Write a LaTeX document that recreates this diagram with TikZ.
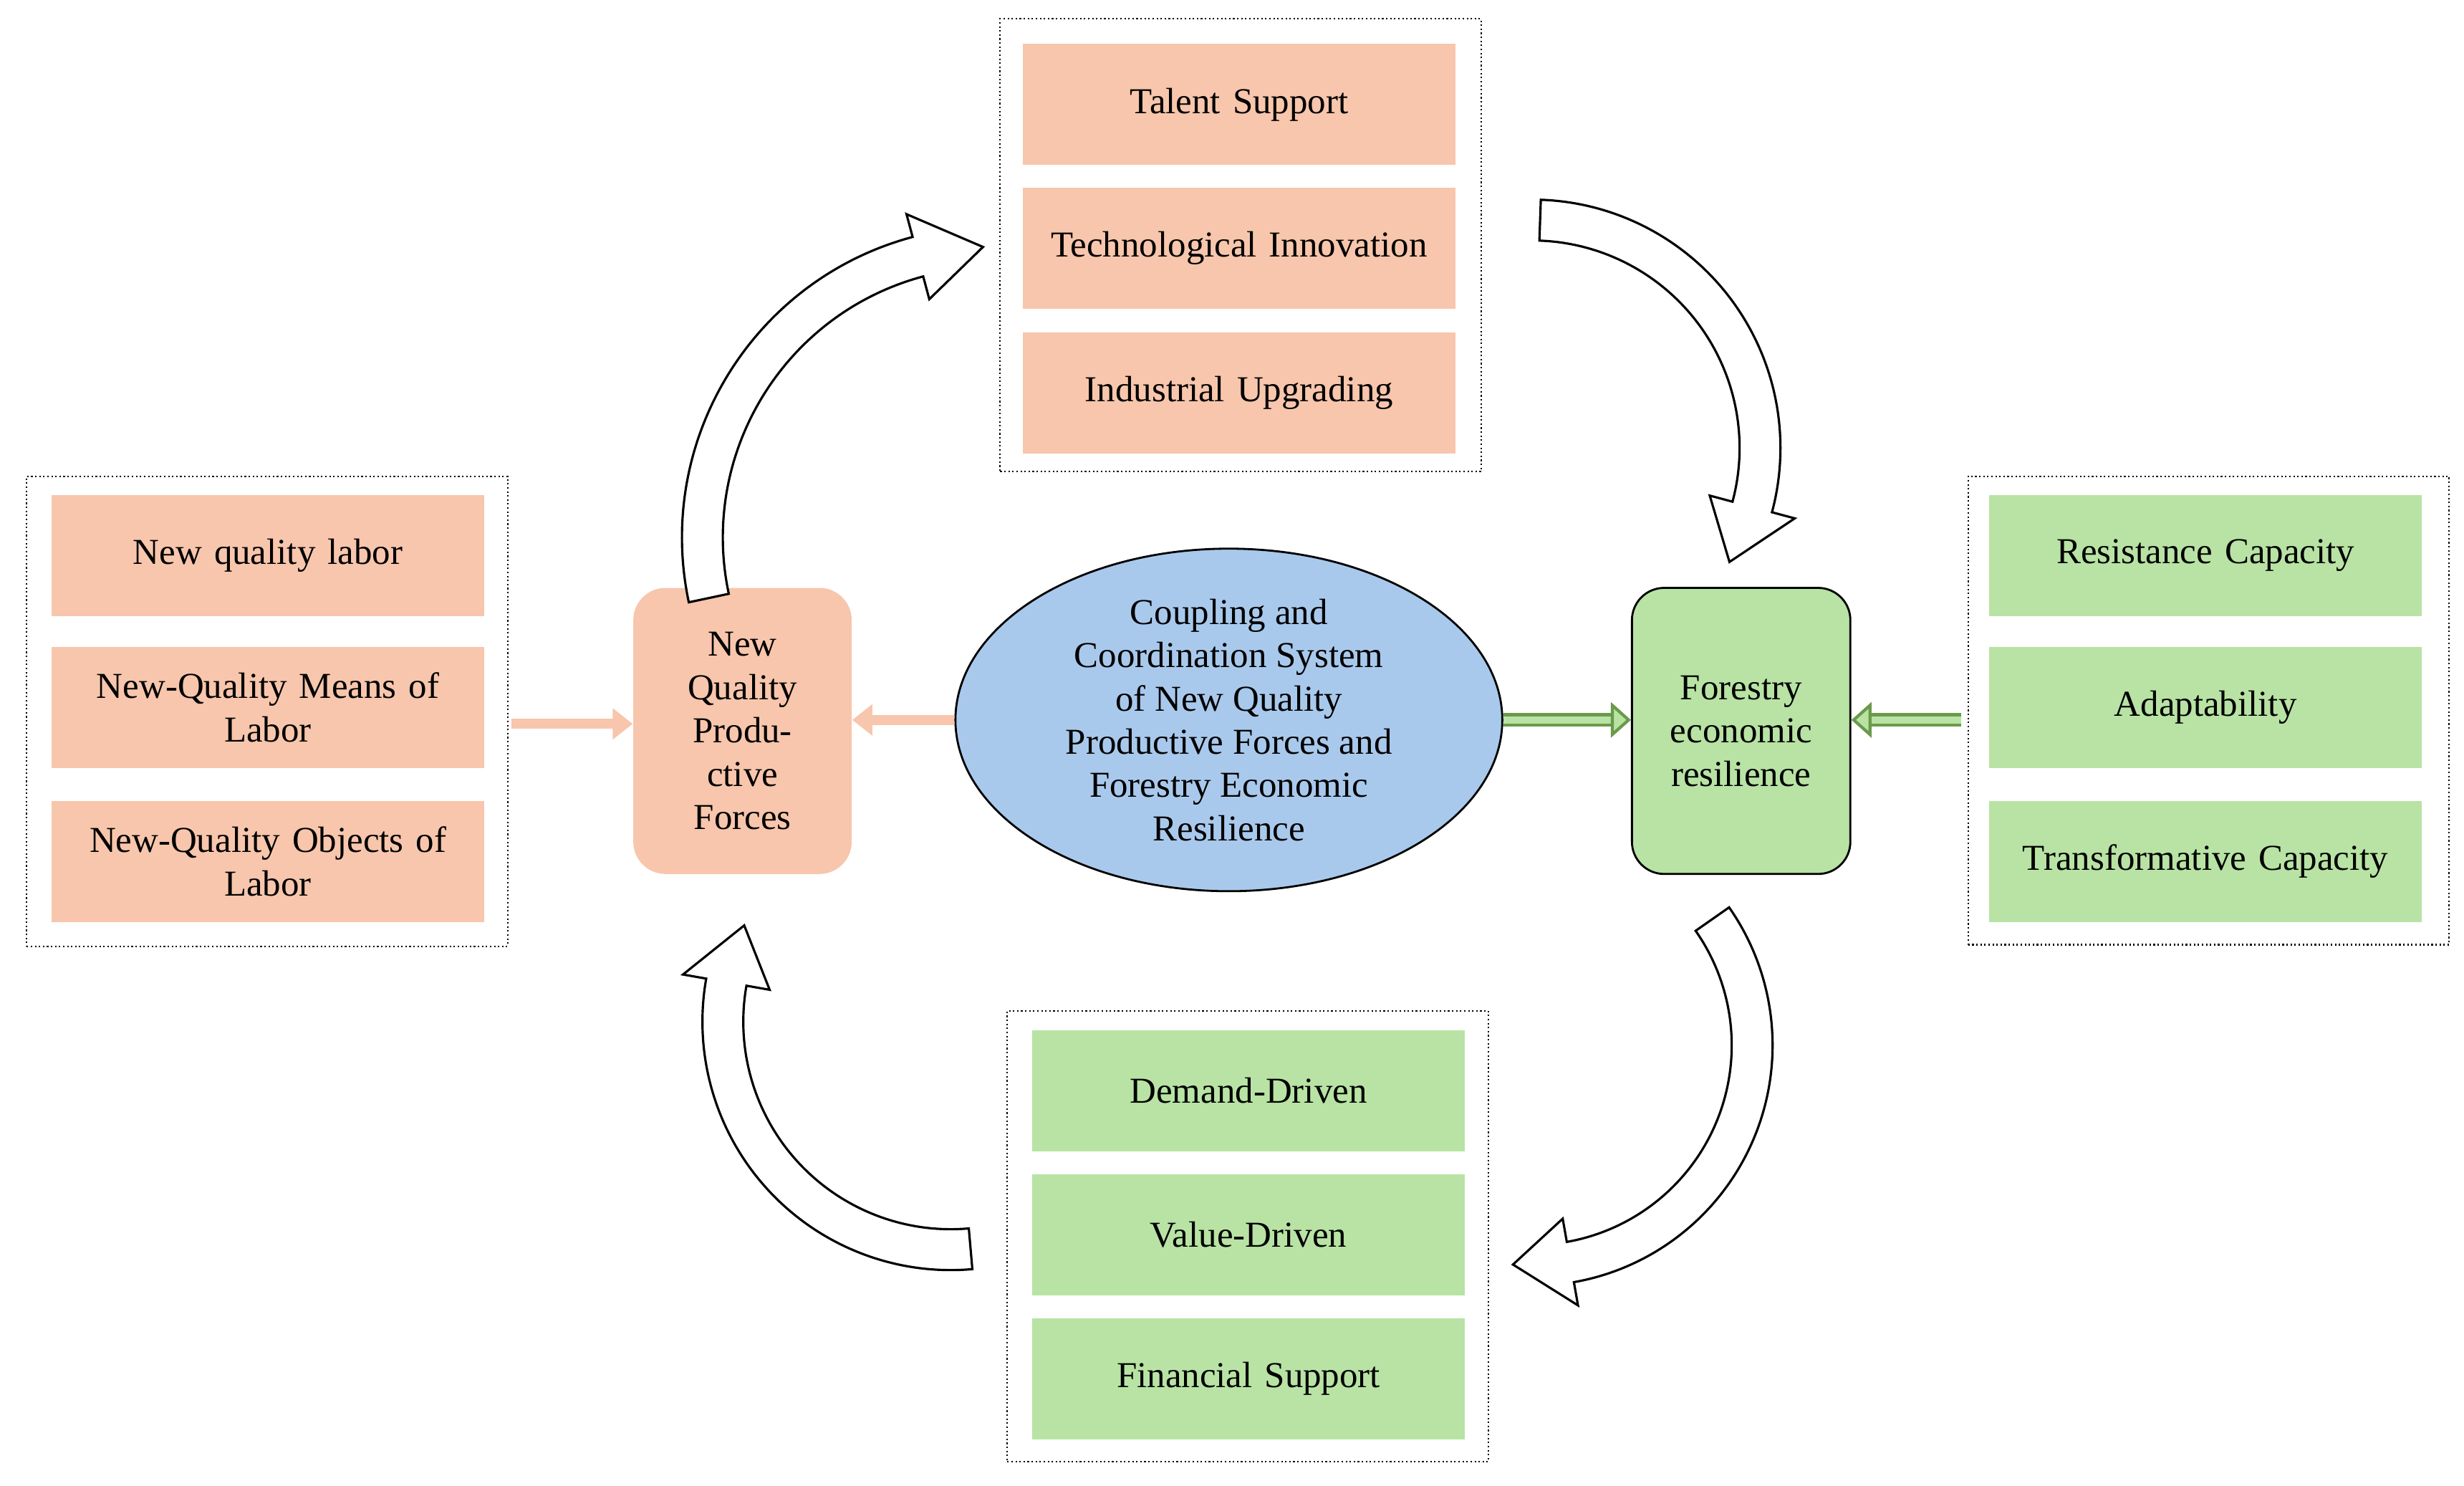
\documentclass[tikz,border=0pt]{standalone}
\usepackage{fontspec}
\setmainfont{Liberation Serif}
\usetikzlibrary{arrows.meta,shapes.geometric,calc,positioning}
\definecolor{salmon}{HTML}{F7C6AC}
\definecolor{leaf}{HTML}{B8E3A4}
\definecolor{sky}{HTML}{A9C9EC}
\definecolor{leafdark}{HTML}{6A9A4A}
\tikzset{
  >=Stealth
}
\newcommand{\pxu}{0.02194cm}
% hollow curved block arrow: center, radius, start, end, tip angle
\newcommand{\bentarrow}[5]{%
  \draw[line width=0.9pt,fill=white]
    ($(#1)+(#3:#2+13)$) arc[start angle=#3,end angle=#4,radius=#2+13]
    -- ($(#1)+(#4:#2+28)$) -- ($(#1)+(#5:#2)$) -- ($(#1)+(#4:#2-28)$)
    -- ($(#1)+(#4:#2-13)$) arc[start angle=#4,end angle=#3,radius=#2-13] -- cycle;}

\begin{document}
\begin{tikzpicture}[x=\pxu,y=-\pxu,
    font=\fontsize{14.5}{17.2}\selectfont,
    grp/.style={draw,densely dotted,line width=0.6pt,minimum width=306*\pxu,inner sep=0pt},
    item/.style={fill=#1,minimum width=275*\pxu,minimum height=77*\pxu,align=center,inner sep=2pt,text width=250*\pxu},
    hub/.style={rounded corners=0.45cm,minimum width=139*\pxu,minimum height=182*\pxu,align=center,text width=120*\pxu,inner sep=0pt}
  ]
    \useasboundingbox (0,0) rectangle (1568,945);

    % groups
    \node[grp,minimum height=288*\pxu] (Gtop) at (789.5,156) {};
    \node[grp,minimum height=299*\pxu] (Gleft) at (170,452.5) {};
    \node[grp,minimum height=298*\pxu] (Gright) at (1405.5,452) {};
    \node[grp,minimum height=287*\pxu] (Gbot) at (794,786.5) {};

    \node[item=salmon] (T1) at (788.5,66.5) {Talent Support};
    \node[item=salmon] (T2) at (788.5,158) {Technological Innovation};
    \node[item=salmon] (T3) at (788.5,250) {Industrial Upgrading};

    \node[item=salmon] (L1) at (170.5,353.5) {New quality labor};
    \node[item=salmon] (L2) at (170.5,450) {New-Quality Means of\\Labor};
    \node[item=salmon] (L3) at (170.5,548) {New-Quality Objects of\\Labor};

    \node[item=leaf] (R1) at (1403.5,353.5) {Resistance Capacity};
    \node[item=leaf] (R2) at (1403.5,450) {Adaptability};
    \node[item=leaf] (R3) at (1403.5,548) {Transformative Capacity};

    \node[item=leaf] (B1) at (794.5,694) {Demand-Driven};
    \node[item=leaf] (B2) at (794.5,785.5) {Value-Driven};
    \node[item=leaf] (B3) at (794.5,877) {Financial Support};

    % centre
    \node[hub,fill=salmon] (NQPF) at (472.5,465) {New\\Quality\\Produ-\\ctive\\Forces};
    \node[hub,fill=leaf,draw,line width=0.8pt] (FER) at (1108,465) {Forestry\\economic\\resilience};
    \node[ellipse,fill=sky,draw,line width=0.8pt,minimum width=348*\pxu,minimum height=170*\pxu,align=center,inner sep=0pt] (CCS) at (782,458)
      {Coupling and\\Coordination System\\of New Quality\\Productive Forces and\\Forestry Economic\\Resilience};

    % straight arrows
    \coordinate (a1) at ($(Gleft.east)+(2,8)$);
    \draw[salmon,line width=4pt,-{Triangle[length=8pt,width=12pt]}] (a1) -- (NQPF.west |- a1);
    \draw[salmon,line width=4pt,-{Triangle[length=8pt,width=12pt]}] (CCS.west) -- (NQPF.east |- CCS.west);
    \draw[leafdark,line width=1.2pt,double=leaf,double distance=3pt,-{Triangle[open,fill=leaf,length=8pt,width=14pt]}] (CCS.east) -- (FER.west |- CCS.east);
    \coordinate (a2) at ($(Gright.west |- CCS.east)+(-4,0)$);
    \draw[leafdark,line width=1.2pt,double=leaf,double distance=3pt,-{Triangle[open,fill=leaf,length=8pt,width=14pt]}] (a2) -- (FER.east |- a2);

    % curved block arrows
    \coordinate (c1) at (632,342);
    \coordinate (c2) at (975,285);
    \coordinate (c3) at (975,665);
    \coordinate (c4) at (605,650);
    \bentarrow{c1}{185}{168}{255}{268}
    \bentarrow{c2}{145}{272}{375}{390}
    \bentarrow{c3}{140}{325}{440}{455}
    \bentarrow{c4}{145}{85}{190}{205}
\end{tikzpicture}
\end{document}
